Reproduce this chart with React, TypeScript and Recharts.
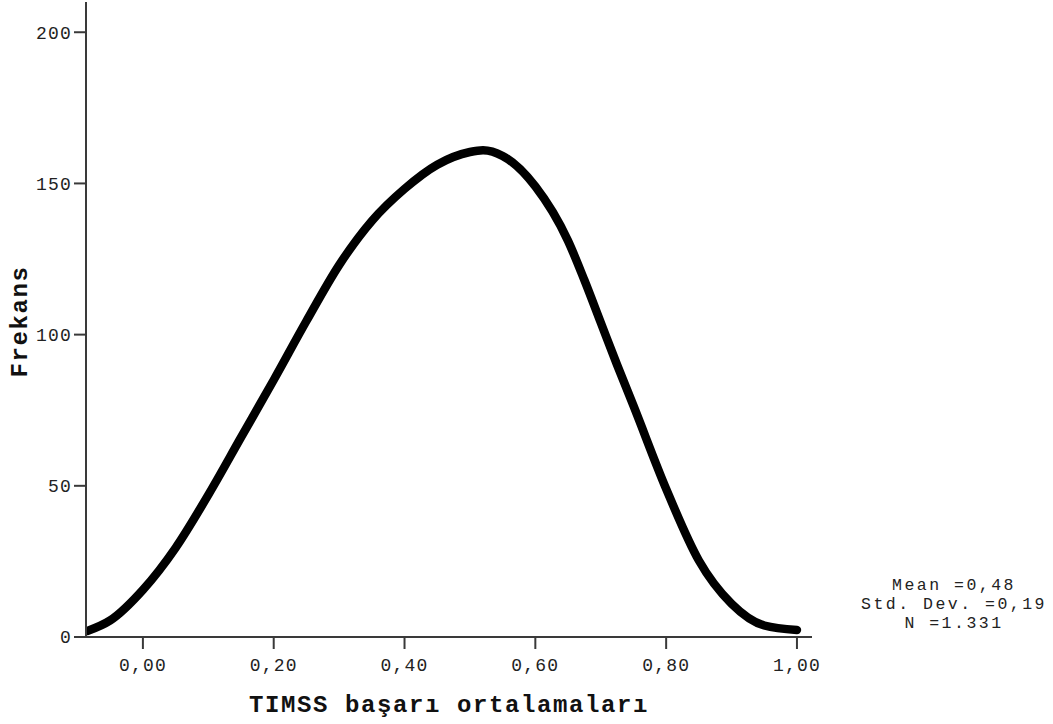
import React from 'react';
import { LineChart, Line, XAxis, YAxis } from 'recharts';

const xValues = [-0.085, -0.05, 0.0, 0.05, 0.1, 0.15, 0.2, 0.25, 0.3, 0.35, 0.4, 0.45, 0.5, 0.52, 0.55, 0.6, 0.65, 0.675, 0.7, 0.725, 0.75, 0.8, 0.85, 0.9, 0.95, 1.0];
const frequencies = [2, 5.5, 15.6, 29.5, 47, 66, 85, 104.5, 123, 137.6, 148.2, 156.2, 160.4, 161, 159.1, 149, 131, 118, 104, 90, 76.5, 49, 25.3, 11, 3.8, 2.3];
const xTicks = [0, 0.2, 0.4, 0.6, 0.8, 1.0];
const yTicks = [0, 50, 100, 150, 200];
const statLines = ['Mean =0,48', 'Std. Dev. =0,19', 'N =1.331'];

const data = xValues.map((x, i) => ({ x, y: frequencies[i] }));

const MONO = '"Liberation Mono", "DejaVu Sans Mono", monospace';
const FRAME = '#3a3a3a';
const TITLE_STYLE = { fontFamily: MONO, fontSize: 24, letterSpacing: 1.6, fontWeight: 'bold' as const, fill: '#111' };

export default function App() {
  return (
    <div style={{ position: 'absolute', left: 0, top: 0, width: 1053, height: 724, background: '#fff' }}>
      <LineChart width={1053} height={724} data={data} margin={{ top: 2, right: 241, bottom: 0, left: 0 }}>
        <XAxis
          dataKey="x"
          type="number"
          domain={[-0.087, 1.023]}
          ticks={xTicks}
          tickFormatter={(v: number) => v.toFixed(2).replace('.', ',')}
          height={87}
          tickSize={12}
          tickMargin={9}
          axisLine={{ stroke: FRAME, strokeWidth: 2 }}
          tickLine={{ stroke: FRAME, strokeWidth: 2 }}
          tick={{ fontFamily: MONO, fontSize: 18, letterSpacing: 1.2, fill: '#222' }}
          allowDataOverflow
          label={{
            content: (props: any) => {
              const vb = props.viewBox || {};
              return (
                <text x={vb.x + vb.width / 2} y={vb.y + 75} textAnchor="middle" style={TITLE_STYLE}>
                  TIMSS başarı ortalamaları
                </text>
              );
            },
          }}
        />
        <XAxis
          xAxisId="top"
          dataKey="x"
          type="number"
          orientation="top"
          domain={[-0.087, 1.023]}
          height={0}
          tick={false}
          tickLine={false}
          axisLine={{ stroke: FRAME, strokeWidth: 2 }}
        />
        <YAxis
          type="number"
          domain={[0, 210]}
          ticks={yTicks}
          width={86}
          tickSize={12}
          tickMargin={2}
          axisLine={{ stroke: FRAME, strokeWidth: 2 }}
          tickLine={{ stroke: FRAME, strokeWidth: 2 }}
          tick={{ fontFamily: MONO, fontSize: 18, letterSpacing: 1.2, fill: '#222' }}
          allowDataOverflow
          label={{
            content: (props: any) => {
              const vb = props.viewBox || {};
              const cx = vb.x + 27;
              const cy = vb.y + vb.height / 2 + 2;
              return (
                <text
                  x={cx}
                  y={cy}
                  textAnchor="middle"
                  transform={`rotate(-90, ${cx}, ${cy})`}
                  style={TITLE_STYLE}
                >
                  Frekans
                </text>
              );
            },
          }}
        />
        <YAxis
          yAxisId="right"
          orientation="right"
          domain={[0, 210]}
          width={0}
          tick={false}
          tickLine={false}
          axisLine={{ stroke: FRAME, strokeWidth: 2 }}
        />
        <Line
          type="monotone"
          dataKey="y"
          stroke="#000"
          strokeWidth={8.5}
          strokeLinecap="round"
          dot={false}
          activeDot={false}
          isAnimationActive={false}
        />
      </LineChart>
      <div
        style={{
          position: 'absolute',
          left: 844,
          top: 576,
          width: 220,
          textAlign: 'center',
          fontFamily: MONO,
          fontSize: 16.5,
          letterSpacing: 2.5,
          lineHeight: '19px',
          color: '#222',
          whiteSpace: 'pre',
        }}
      >
        {statLines.map((s) => (
          <div key={s}>{s}</div>
        ))}
      </div>
    </div>
  );
}
